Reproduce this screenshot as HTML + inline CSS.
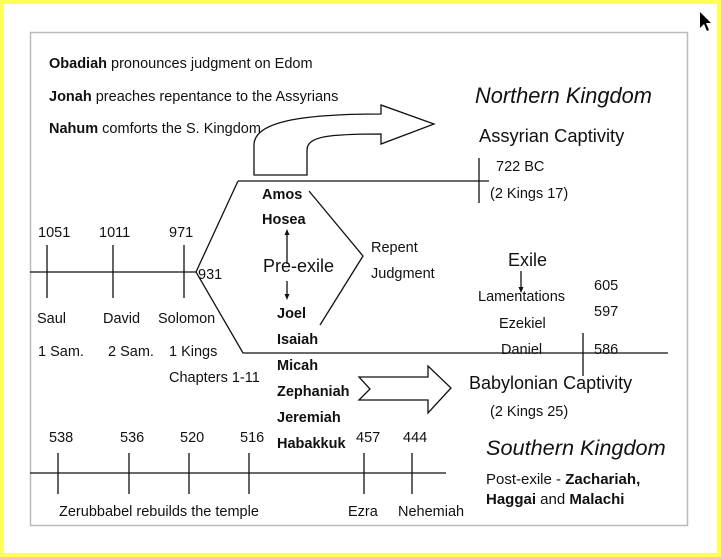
<!DOCTYPE html>
<html><head><meta charset="utf-8"><style>
html,body{margin:0;padding:0;background:#fff}
svg{display:block}
text{font-family:"Liberation Sans",Arial,sans-serif;fill:#111}
.b{font-weight:bold}
</style></head><body>
<svg width="721" height="557" viewBox="0 0 721 557" xmlns="http://www.w3.org/2000/svg">
<rect x="0" y="0" width="721" height="557" fill="#ffff55"/>
<rect x="4" y="4" width="713" height="549" fill="#fff"/>
<rect x="30.5" y="32.5" width="657" height="493" fill="#fff" stroke="#bbb" stroke-width="1.5"/>
<path d="M700 12 L700 28 L704 24 L707 31 L709 30 L706 23 L711 23 Z" fill="#000"/>
<g font-size="14.5">
<text x="49" y="68"><tspan class="b">Obadiah</tspan> pronounces judgment on Edom</text>
<text x="49" y="101"><tspan class="b">Jonah</tspan> preaches repentance to the Assyrians</text>
<text x="49" y="133"><tspan class="b">Nahum</tspan> comforts the S. Kingdom</text>
</g>
<text x="475" y="103" font-size="21.8" font-style="italic">Northern Kingdom</text>
<text x="479" y="142" font-size="18.3">Assyrian Captivity</text>
<text x="496" y="171" font-size="14.5">722 BC</text>
<text x="490" y="198" font-size="14.5">(2 Kings 17)</text>
<g stroke="#111" stroke-width="1.3" fill="none">
<path d="M254 175 L254 145 C254 122 300 114 381 114 L381 105 L434 124 L381 144 L381 134 C330 134 307 136 307 150 L307 175 Z" fill="#fff"/>
<line x1="479" y1="158" x2="479" y2="203"/>
<line x1="238" y1="181" x2="489" y2="181"/>
<line x1="30" y1="272" x2="196" y2="272"/>
<line x1="47" y1="245" x2="47" y2="298"/>
<line x1="113" y1="245" x2="113" y2="298"/>
<line x1="184" y1="245" x2="184" y2="298"/>
<polyline points="238,181 196,272 243,353 668,353"/>
<polyline points="309,191 363,256 320,325"/>
<line x1="287" y1="264" x2="287" y2="234"/>
<line x1="287" y1="281" x2="287" y2="296"/>
<line x1="521" y1="271" x2="521" y2="289"/>
<line x1="583" y1="333" x2="583" y2="376"/>
<polygon points="359,377 428,377 428,366 451,388 428,413 428,400 359,400 370,389" fill="#fff"/>
<line x1="30" y1="473" x2="446" y2="473"/>
<line x1="58" y1="453" x2="58" y2="494"/>
<line x1="129" y1="453" x2="129" y2="494"/>
<line x1="189" y1="453" x2="189" y2="494"/>
<line x1="249" y1="453" x2="249" y2="494"/>
<line x1="364" y1="453" x2="364" y2="494"/>
<line x1="412" y1="453" x2="412" y2="494"/>
</g>
<g fill="#111">
<path d="M287 229 L284.5 235 L289.5 235 Z"/>
<path d="M287 300 L284.5 294 L289.5 294 Z"/>
<path d="M521 293 L518.5 287 L523.5 287 Z"/>
</g>
<g font-size="14.5">
<text x="38" y="237">1051</text><text x="99" y="237">1011</text><text x="169" y="237">971</text>
<text x="198" y="279">931</text>
<text x="37" y="323">Saul</text><text x="103" y="323">David</text><text x="158" y="323">Solomon</text>
<text x="38" y="356">1 Sam.</text><text x="108" y="356">2 Sam.</text><text x="169" y="356">1 Kings</text>
<text x="169" y="382">Chapters 1-11</text>
<text class="b" x="262" y="199">Amos</text><text class="b" x="262" y="224">Hosea</text>
<text class="b" x="277" y="318">Joel</text><text class="b" x="277" y="344">Isaiah</text>
<text class="b" x="277" y="370">Micah</text><text class="b" x="277" y="396">Zephaniah</text>
<text class="b" x="277" y="422">Jeremiah</text><text class="b" x="277" y="448">Habakkuk</text>
<text x="371" y="252">Repent</text><text x="371" y="278">Judgment</text>
<text x="478" y="301">Lamentations</text><text x="499" y="328">Ezekiel</text><text x="501" y="354">Daniel</text>
<text x="594" y="290">605</text><text x="594" y="316">597</text><text x="594" y="354">586</text>
<text x="490" y="416">(2 Kings 25)</text>
<text x="49" y="442">538</text><text x="120" y="442">536</text><text x="180" y="442">520</text><text x="240" y="442">516</text>
<text x="356" y="442">457</text><text x="403" y="442">444</text>
<text x="59" y="516">Zerubbabel rebuilds the temple</text>
<text x="348" y="516">Ezra</text><text x="398" y="516">Nehemiah</text>
</g>
<text x="263" y="272" font-size="18">Pre-exile</text>
<text x="508" y="266" font-size="18">Exile</text>
<text x="469" y="389" font-size="18">Babylonian Captivity</text>
<text x="486" y="455" font-size="21.7" font-style="italic">Southern Kingdom</text>
<text x="486" y="484" font-size="15">Post-exile - <tspan class="b">Zachariah,</tspan></text>
<text x="486" y="504" font-size="15"><tspan class="b">Haggai</tspan> and <tspan class="b">Malachi</tspan></text>
</svg>
</body></html>
